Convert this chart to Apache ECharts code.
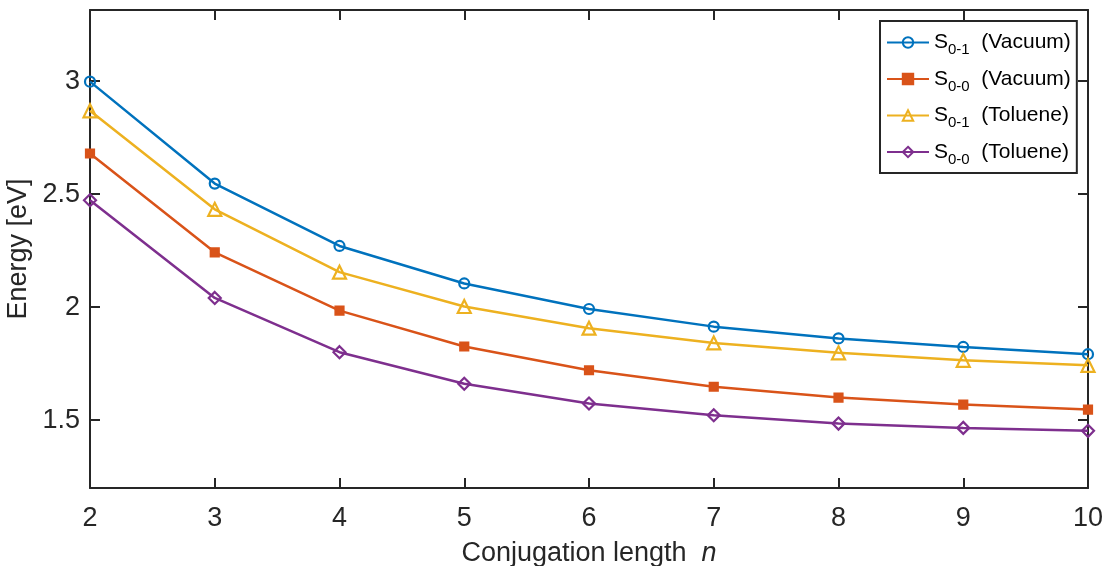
<!DOCTYPE html>
<html>
<head>
<meta charset="utf-8">
<script src="https://cdn.jsdelivr.net/npm/echarts@6/dist/echarts.min.js"></script>
<style>html,body{margin:0;padding:0;background:#fff}#c{width:1104px;height:566px}</style>
</head>
<body>
<div id="c"></div>
<script>
const nValues = [2, 3, 4, 5, 6, 7, 8, 9, 10];
const s01Vacuum  = [2.998, 2.547, 2.271, 2.105, 1.992, 1.914, 1.862, 1.824, 1.792];
const s00Vacuum  = [2.680, 2.243, 1.985, 1.826, 1.721, 1.648, 1.600, 1.569, 1.547];
const s01Toluene = [2.869, 2.433, 2.155, 2.003, 1.907, 1.842, 1.798, 1.765, 1.743];
const s00Toluene = [2.473, 2.041, 1.801, 1.661, 1.574, 1.522, 1.485, 1.466, 1.453];
const yTicks = [1.5, 2, 2.5, 3];
const seriesNames = ['S0-1 (Vacuum)', 'S0-0 (Vacuum)', 'S0-1 (Toluene)', 'S0-0 (Toluene)'];

const FONT = "'Liberation Sans', Arial, Helvetica, sans-serif";
const AX = '#262626';
const pairs = arr => nValues.map((n, i) => [n, arr[i]]);

function mkSeries(name, data, color, symbol, size, filled) {
  return {
    name, type: 'line', data: pairs(data), symbol, symbolSize: size,
    lineStyle: { color, width: 2.5 },
    itemStyle: { color: filled ? color : 'rgba(255,255,255,0)', borderColor: color, borderWidth: 2.2 },
    emphasis: { disabled: true }, animation: false, z: 3
  };
}

const chart = echarts.init(document.getElementById('c'));
const axCommon = {
  axisLine: { show: true, lineStyle: { color: AX, width: 2 } },
  axisTick: { show: true, inside: true, length: 10, lineStyle: { color: AX, width: 2 } },
  splitLine: { show: false }
};
chart.setOption({
  animation: false,
  grid: { left: 90, right: 16, top: 10, bottom: 78, containLabel: false, outerBoundsMode: 'none' },
  xAxis: [
    Object.assign({
      type: 'value', min: 2, max: 10, interval: 1, position: 'bottom',
      axisLabel: { fontSize: 27, color: AX, fontFamily: FONT, margin: 17 },
      name: '{a|Conjugation length}  {i|n}', nameLocation: 'middle', nameGap: 52,
      nameTextStyle: { fontSize: 27, color: AX, fontFamily: FONT,
        rich: { a: { fontSize: 27, color: AX, fontFamily: FONT }, i: { fontSize: 27, color: AX, fontFamily: FONT, fontStyle: 'italic' } } }
    }, axCommon),
    Object.assign({
      type: 'value', min: 2, max: 10, interval: 1, position: 'top',
      axisLabel: { show: false }
    }, axCommon)
  ],
  yAxis: [
    Object.assign({
      type: 'value', min: 1.2, max: 3.315, position: 'left',
      axisLabel: { fontSize: 27, color: AX, fontFamily: FONT, margin: 10, customValues: yTicks },
      axisTick: { show: true, inside: true, length: 10, lineStyle: { color: AX, width: 2 }, customValues: yTicks },
      name: 'Energy [eV]', nameLocation: 'middle', nameGap: 50,
      nameTextStyle: { fontSize: 27, color: AX, fontFamily: FONT }
    }, { axisLine: axCommon.axisLine, splitLine: axCommon.splitLine }),
    Object.assign({
      type: 'value', min: 1.2, max: 3.315, position: 'right',
      axisLabel: { show: false, customValues: yTicks },
      axisTick: { show: true, inside: true, length: 10, lineStyle: { color: AX, width: 2 }, customValues: yTicks }
    }, { axisLine: axCommon.axisLine, splitLine: axCommon.splitLine })
  ],
  legend: {
    orient: 'vertical', left: 880, top: 21,
    data: seriesNames,
    itemWidth: 42, itemHeight: 13, itemGap: 11,
    padding: [11, 6, 6, 6],
    backgroundColor: '#fff', borderColor: AX, borderWidth: 2, borderRadius: 0,
    selectedMode: false, z: 10,
    textStyle: {
      fontFamily: FONT, color: '#000', fontSize: 21,
      rich: {
        s: { fontSize: 21, fontFamily: FONT, color: '#000', lineHeight: 30, verticalAlign: 'middle' },
        b: { fontSize: 15, fontFamily: FONT, color: '#000', lineHeight: 30, verticalAlign: 'bottom' },
        t: { fontSize: 21, fontFamily: FONT, color: '#000', lineHeight: 30, verticalAlign: 'middle' }
      }
    },
    formatter: function (name) {
      const m = name.match(/^S(\S+) (.*)$/);
      return '{s|S}{b|' + m[1] + '}{t|  ' + m[2] + '}';
    }
  },
  series: [
    mkSeries(seriesNames[0], s01Vacuum, '#0072BD', 'circle', 10, false),
    mkSeries(seriesNames[1], s00Vacuum, '#D95319', 'rect', 8, true),
    mkSeries(seriesNames[2], s01Toluene, '#EDB120', 'triangle', 13, false),
    mkSeries(seriesNames[3], s00Toluene, '#7E2F8E', 'diamond', 12, false)
  ]
});
</script>
</body>
</html>
